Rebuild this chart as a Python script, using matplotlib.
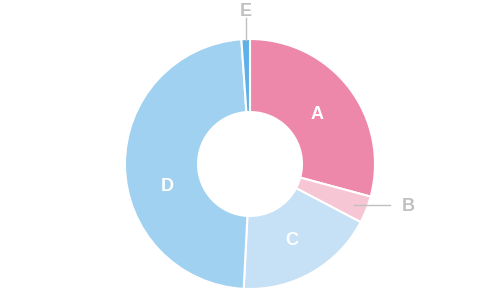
import numpy as np
import matplotlib
matplotlib.use("Agg")
import matplotlib.pyplot as plt

labels = ["A", "B", "C", "D", "E"]
values = [29.2, 3.5, 18.1, 48.1, 1.1]
colors = ["#ee88aa", "#f7c6d5", "#c6e1f6", "#a0d1f0", "#5eb0e8"]
inside = ["A", "C", "D"]

plt.rcParams['font.family'] = ['Liberation Sans', 'DejaVu Sans']

fig = plt.figure(figsize=(5.0, 2.91), dpi=100)
ax = fig.add_axes([0, 0, 1, 1])

R = 125
r_in = 52
wedges, _ = ax.pie(values, colors=colors, radius=R, startangle=90, counterclock=False,
                   wedgeprops=dict(width=R - r_in, edgecolor="white", linewidth=1.5))

# small angle nudges for the inner labels (degrees)
nudge = {"A": 1.0, "C": 0.0, "D": 12.5}
grey = "#c0c0c0"
dy = -3  # text boxes sit a bit high, push them down

for w, lab in zip(wedges, labels):
    mid_deg = (w.theta1 + w.theta2) / 2
    if lab in inside:
        a = np.deg2rad(mid_deg + nudge[lab])
        rr = 85
        ax.text(rr * np.cos(a), rr * np.sin(a) + dy, lab, color="white", fontsize=13,
                fontweight="bold", ha="center", va="center")
    elif lab == "B":
        a = np.deg2rad(mid_deg)
        x0, y0 = 112 * np.cos(a), 112 * np.sin(a)
        ax.plot([x0, 140], [y0, y0], color=grey, lw=1)
        ax.text(152, y0 + 1 + dy, lab, color=grey, fontsize=13, fontweight="bold",
                ha="left", va="center")
    else:
        a = np.deg2rad(mid_deg)
        x0, y0 = 124 * np.cos(a), 124 * np.sin(a)
        ax.plot([x0, x0], [y0, 146], color=grey, lw=1)
        ax.text(x0, 156 + dy, lab, color=grey, fontsize=13, fontweight="bold",
                ha="center", va="center")

ax.set_xlim(-250, 250)
ax.set_ylim(-127, 164)
ax.set_aspect("equal")
ax.axis("off")

fig.savefig("out.png", dpi=100)
